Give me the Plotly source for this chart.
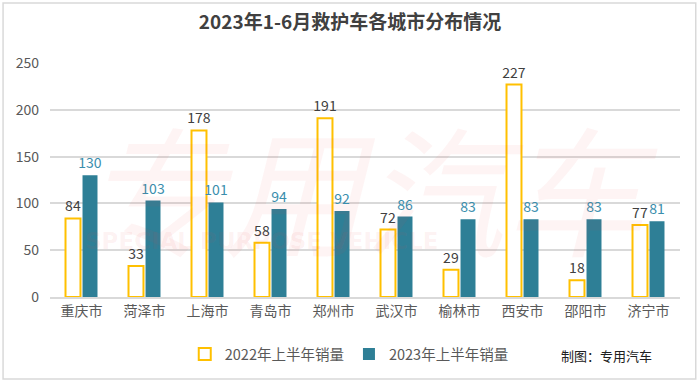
import plotly.graph_objects as go

cities = ["重庆市", "菏泽市", "上海市", "青岛市", "郑州市", "武汉市", "榆林市", "西安市", "邵阳市", "济宁市"]
sales_2022 = [84, 33, 178, 58, 191, 72, 29, 227, 18, 77]
sales_2023 = [130, 103, 101, 94, 92, 86, 83, 83, 83, 81]
y_ticks = [0, 50, 100, 150, 200, 250]

FONT = "Noto Sans CJK SC"

fig = go.Figure()
fig.add_trace(go.Bar(
    x=cities, y=sales_2022, name="2022年上半年销量",
    marker=dict(color="white", line=dict(color="#FFC000", width=2)),
    text=sales_2022, textposition="outside", cliponaxis=False, constraintext="none",
    textfont=dict(color="#404040", size=14, family=FONT),
))
fig.add_trace(go.Bar(
    x=cities, y=sales_2023, name="2023年上半年销量",
    marker=dict(color="#2E7F96", line=dict(width=0)),
    text=sales_2023, textposition="outside", cliponaxis=False, constraintext="none",
    textfont=dict(color="#3A8EAD", size=14, family=FONT),
))

fig.update_layout(
    width=700, height=382,
    margin=dict(l=50, r=20, t=63, b=85),
    paper_bgcolor="white", plot_bgcolor="white",
    barmode="group", bargap=0.46, bargroupgap=0.12,
    font=dict(family=FONT, color="#595959", size=13),
    title=dict(text="<b>2023年1-6月救护车各城市分布情况</b>", x=0.5, xanchor="center",
               y=0.942, yanchor="middle", font=dict(size=19, color="#404040", family=FONT)),
    xaxis=dict(showgrid=False, showline=True, linecolor="#D9D9D9", linewidth=1.5,
               ticks="", tickfont=dict(size=14, color="#595959")),
    yaxis=dict(range=[0, 250], tickvals=y_ticks, showgrid=True, gridcolor="#D9D9D9",
               gridwidth=1.5, zeroline=False, showline=False, ticks="",
               tickfont=dict(size=14, color="#595959"), ticklabelstandoff=10),
    legend=dict(orientation="h", x=0.475, xanchor="center", y=-0.244, yanchor="middle",
                font=dict(size=14.5, color="#595959"), traceorder="normal",
                itemwidth=30, bgcolor="rgba(0,0,0,0)"),
    showlegend=True,
    shapes=[dict(type="rect", xref="paper", yref="paper", x0=-0.0745, x1=1.025,
                 y0=-0.35, y1=1.256, line=dict(color="#D9D9D9", width=1.5),
                 fillcolor="rgba(0,0,0,0)", layer="below")],
    annotations=[
        dict(text="制图：专用汽车", xref="paper", yref="paper", x=0.958, y=-0.25,
             xanchor="right", yanchor="middle", showarrow=False,
             font=dict(size=13, color="#202020", family=FONT)),
        dict(text="<i>专用汽车</i>", xref="paper", yref="paper", x=0.51, y=0.48,
             xanchor="center", yanchor="middle", showarrow=False,
             font=dict(size=140, color="rgba(235,70,70,0.06)", family=FONT)),
        dict(text="<b>SPECIAL PURPOSE VEHICLE</b>", xref="paper", yref="paper", x=0.336, y=0.24,
             xanchor="center", yanchor="middle", showarrow=False,
             font=dict(size=23, color="rgba(235,70,70,0.07)", family="DejaVu Sans")),
    ],
)

fig.write_html("out.html", config={"displayModeBar": False},
               post_script="document.body.style.margin='0';")
